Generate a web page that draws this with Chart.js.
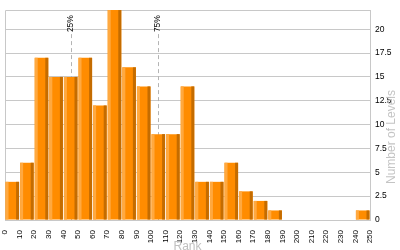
<!DOCTYPE html>
<html>
<head>
<meta charset="utf-8">
<script src="https://cdn.jsdelivr.net/npm/chart.js@4.4.1/dist/chart.umd.min.js"></script>
<style>
html,body{margin:0;padding:0;background:#fff;}
#wrap{width:400px;height:250px;position:relative;}
</style>
</head>
<body>
<div id="wrap"><canvas id="c" width="400" height="250"></canvas></div>
<script>
// ---- data ----
const binStarts = [0,10,20,30,40,50,60,70,80,90,100,110,120,130,140,150,160,170,180,190,200,210,220,230,240];
const binWidth = 10;
const counts = [4,6,17,15,15,17,12,22,16,14,9,9,14,4,4,6,3,2,1,0,0,0,0,0,1];
const markerLabels = ['25%','75%'];
const markerValues = [45,105];
const xTitle = 'Rank';
const yTitle = 'Number of Levels';
const yMax = 22;
const yStep = 2.5;
const xMin = 0, xMax = 250, xStep = 10;

const FONT = "'Liberation Sans', Arial, sans-serif";
const GRID = '#c8c8c8';

const barPoints = binStarts.map((s,i)=>({x: s + binWidth/2, y: counts[i]}));

const boxPlugin = {
  id:'box',
  beforeDatasetsDraw(chart){
    const {ctx, chartArea:a} = chart;
    ctx.save();
    ctx.strokeStyle = GRID; ctx.lineWidth = 1;
    ctx.beginPath();
    ctx.moveTo(Math.round(a.left)+0.5, a.bottom);
    ctx.lineTo(Math.round(a.left)+0.5, Math.round(a.top)+0.5);
    ctx.lineTo(a.right, Math.round(a.top)+0.5);
    ctx.stroke();
    // percentile markers
    const xs = chart.scales.x;
    ctx.font = "8.5px " + FONT;
    markerValues.forEach((v,i)=>{
      const px = Math.round(xs.getPixelForValue(v)) + 0.5;
      ctx.save();
      ctx.strokeStyle = '#b4b4b4';
      ctx.setLineDash([4,3]);
      ctx.beginPath();
      ctx.moveTo(px, a.top + 24);
      ctx.lineTo(px, a.bottom);
      ctx.stroke();
      ctx.restore();
      ctx.save();
      ctx.translate(px, a.top + 5);
      ctx.rotate(-Math.PI/2);
      ctx.fillStyle = '#000';
      ctx.textAlign = 'right';
      ctx.textBaseline = 'middle';
      ctx.fillText(markerLabels[i], 0, -1);
      ctx.restore();
    });
    ctx.restore();
  },
  afterDatasetsDraw(chart){
    const {ctx} = chart;
    const meta = chart.getDatasetMeta(0);
    ctx.save();
    meta.data.forEach(bar=>{
      const p = bar.getProps(['x','y','base','width'], true);
      const h = p.base - p.y;
      if (h < 0.5) return;
      const left = p.x - p.width/2;
      ctx.fillStyle = '#ffa940';
      ctx.fillRect(left, p.y, 3, h);
      ctx.fillStyle = '#c46c00';
      ctx.fillRect(left + p.width - 3, p.y, 3, h);
    });
    ctx.restore();
  },
  afterDraw(chart){
    const {ctx, chartArea:a} = chart;
    ctx.save();
    ctx.translate(392, 137);
    ctx.rotate(-Math.PI/2);
    ctx.font = "12px " + FONT;
    ctx.fillStyle = '#c4c4c4';
    ctx.textAlign = 'center';
    ctx.textBaseline = 'middle';
    ctx.fillText(yTitle, 0, 0);
    ctx.restore();
    ctx.save();
    ctx.font = "12px " + FONT;
    ctx.fillStyle = '#c0c0c0';
    ctx.textAlign = 'center';
    ctx.textBaseline = 'alphabetic';
    ctx.fillText(xTitle, (a.left + a.right)/2, 250);
    ctx.restore();
  }
};

new Chart(document.getElementById('c'), {
  type:'bar',
  data:{
    datasets:[{
      data: barPoints,
      backgroundColor:'#ff8c00',
      borderWidth:0,
      barPercentage:0.93,
      categoryPercentage:1.0
    }]
  },
  options:{
    responsive:false,
    animation:false,
    devicePixelRatio:1,
    layout:{padding:{left:5, top:5, right:0, bottom:0}},
    plugins:{legend:{display:false}, tooltip:{enabled:false}},
    scales:{
      x:{
        type:'linear',
        min:xMin, max:xMax,
        offset:false,
        grid:{display:false, offset:false},
        border:{display:true, color:GRID},
        ticks:{
          stepSize:xStep, autoSkip:false, maxRotation:90, minRotation:90,
          padding:2, color:'#000', font:{family:FONT, size:8}
        },
        afterFit(s){ s.height = 30; }
      },
      y:{
        position:'right',
        min:0, max:yMax,
        grid:{color:GRID, drawTicks:false},
        border:{display:true, color:GRID},
        ticks:{stepSize:yStep, includeBounds:false, padding:5, color:'#000', font:{family:FONT, size:8.5}},
        afterFit(s){ s.width = 30; }
      }
    }
  },
  plugins:[boxPlugin]
});
</script>
</body>
</html>
